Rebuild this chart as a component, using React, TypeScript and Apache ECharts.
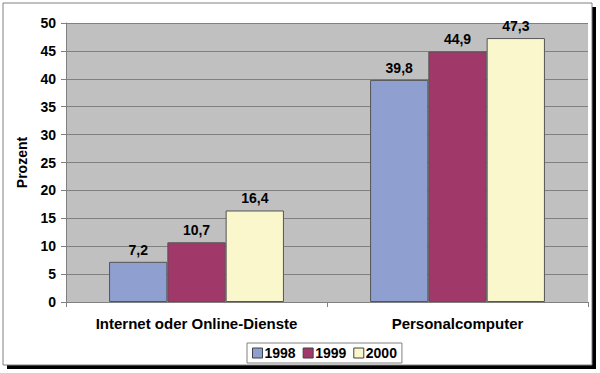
import React, { useEffect, useRef } from "react";
import * as echarts from "echarts";

const categories = ["Internet oder Online-Dienste", "Personalcomputer"];
const seriesNames = ["1998", "1999", "2000"];
const values1998 = [7.2, 39.8];
const values1999 = [10.7, 44.9];
const values2000 = [16.4, 47.3];
const colors = ["#8f9fd0", "#a0386a", "#fbf7cc"];

export default function App() {
  const ref = useRef<HTMLDivElement>(null);
  useEffect(() => {
    const chart = echarts.init(ref.current!, null, { renderer: "svg" });
    const font = "Liberation Sans, Arial, sans-serif";
    const data = [values1998, values1999, values2000];
    chart.setOption({
      animation: false,
      textStyle: { fontFamily: font },
      graphic: [
        { type: "rect", z: -10, shape: { x: 7, y: 7, width: 589, height: 362 }, style: { fill: "#000" } },
        { type: "rect", z: -9, shape: { x: 3, y: 3, width: 589, height: 362 }, style: { fill: "#fff", stroke: "#808080", lineWidth: 1 } },
      ],
      grid: {
        left: 66,
        right: 12,
        top: 23,
        bottom: 71,
        show: true,
        backgroundColor: "#c0c0c0",
        borderWidth: 0,
      },
      legend: {
        left: 247,
        top: 343,
        itemWidth: 10,
        itemHeight: 10,
        itemGap: 7,
        padding: [3, 5],
        borderColor: "#808080",
        borderWidth: 1,
        textStyle: { fontFamily: font, fontWeight: "bold", fontSize: 14, color: "#000", padding: [0, 0, 0, -3] },
        data: seriesNames.map((n, i) => ({
          name: n,
          icon: "rect",
          itemStyle: { color: colors[i], borderColor: "#404040", borderWidth: 1 },
        })),
      },
      xAxis: {
        type: "category",
        data: categories,
        axisLine: { lineStyle: { color: "#808080", width: 1 } },
        axisTick: { show: true, length: 5, lineStyle: { color: "#808080" } },
        axisLabel: { interval: 0, hideOverlap: false, fontFamily: font, fontWeight: "bold", fontSize: 15, color: "#000", margin: 14 },
      },
      yAxis: {
        type: "value",
        min: 0,
        max: 50,
        interval: 5,
        name: "Prozent",
        nameLocation: "middle",
        nameGap: 37,
        nameRotate: 90,
        nameTextStyle: { fontFamily: font, fontWeight: "bold", fontSize: 14, color: "#000" },
        axisLine: { show: true, lineStyle: { color: "#808080", width: 1 } },
        axisTick: { show: true, length: 5, lineStyle: { color: "#808080" } },
        axisLabel: { fontFamily: font, fontWeight: "bold", fontSize: 14, color: "#000", margin: 10 },
        splitLine: { show: true, lineStyle: { color: "#808080", width: 1 } },
      },
      series: seriesNames.map((n, i) => ({
        name: n,
        type: "bar",
        data: data[i],
        barGap: "0%",
        barCategoryGap: "33%",
        itemStyle: { color: colors[i], borderColor: "#555", borderWidth: 1 },
        label: {
          show: true,
          position: "top",
          distance: 5,
          fontFamily: font,
          fontWeight: "bold",
          fontSize: 14,
          color: "#000",
          formatter: (p: any) => String(p.value).replace(".", ","),
        },
      })),
    });
    return () => chart.dispose();
  }, []);
  return <div ref={ref} style={{ position: "absolute", left: 0, top: 0, width: 600, height: 373 }} />;
}
